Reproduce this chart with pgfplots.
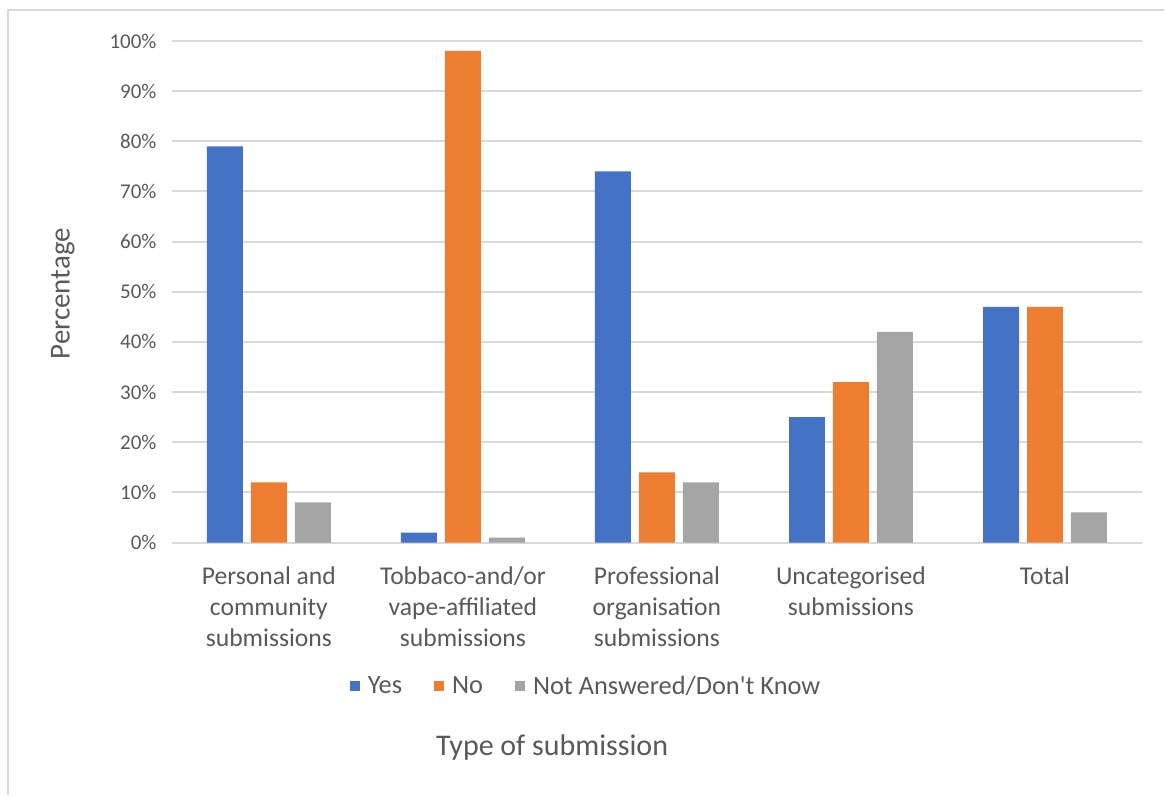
\documentclass[border=0pt]{standalone}
\usepackage{fontspec}
\setmainfont{Carlito}
\usepackage{pgfplots}
\pgfplotsset{compat=1.18}

\definecolor{cYes}{HTML}{4472C4}
\definecolor{cNo}{HTML}{ED7D31}
\definecolor{cNA}{HTML}{A5A5A5}
\definecolor{gridc}{HTML}{D9D9D9}
\definecolor{txt}{HTML}{595959}

\begin{document}
\begin{tikzpicture}
\begin{axis}[
    at={(0,0)}, anchor=south west,
    width=485.5pt, height=251pt,
    scale only axis,
    ybar, bar width=18pt,
    xmin=-0.5, xmax=4.5,
    ymin=0, ymax=100,
    xtick={0,1,2,3,4},
    xticklabels={Personal and\\community\\submissions,
                 Tobbaco-and/or\\vape-affiliated\\submissions,
                 Professional\\organisation\\submissions,
                 Uncategorised\\submissions,
                 Total},
    ytick={0,10,...,100},
    yticklabel={\pgfmathprintnumber{\tick}\%},
    major tick length=0pt,
    axis line style={draw=none},
    ymajorgrids, grid style={gridc, line width=1pt},
    xticklabel style={anchor=north, inner sep=0pt, yshift=-12pt, align=center,
        font=\fontsize{12.8}{15.5}\selectfont, text=txt},
    yticklabel style={anchor=east, inner sep=0pt, xshift=-7.5pt,
        font=\fontsize{10.5}{12}\selectfont, text=txt},
    /pgf/number format/assume math mode=true,
    xlabel={Type of submission},
    xlabel style={at={(axis description cs:0.392,-0.408)}, anchor=center,
        font=\fontsize{15}{18}\selectfont, text=txt},
    ylabel={Percentage},
    ylabel style={at={(axis description cs:-0.1123,0.496)}, anchor=center,
        font=\fontsize{14.5}{17}\selectfont, text=txt},
    legend style={at={(axis description cs:0.43,-0.287)}, anchor=center,
        draw=none, legend columns=-1, font=\fontsize{13.2}{15}\selectfont,
        text=txt,
        nodes={inner xsep=4pt},
        /tikz/every even column/.append style={column sep=12pt}},
    legend image code/.code={\fill[#1] (0pt,-2.5pt) rectangle (5pt,2.5pt);},
]
\addplot[fill=cYes, draw=none, bar shift=-22pt] coordinates {
    (0,79) (1,2) (2,74) (3,25) (4,47)};
\addplot[fill=cNo, draw=none, bar shift=0pt] coordinates {
    (0,12) (1,98) (2,14) (3,32) (4,47)};
\addplot[fill=cNA, draw=none, bar shift=22pt] coordinates {
    (0,8) (1,1) (2,12) (3,42) (4,6)};
\legend{Yes, No, Not Answered/Don\textquotesingle t Know}
\end{axis}
\draw[gridc, line width=1pt] (-82pt,-126.5pt) -- (-82pt,266.5pt) -- (496.5pt,266.5pt);
\path[use as bounding box] (-86pt,-126.5pt) rectangle (496.5pt,271.5pt);
\end{tikzpicture}
\end{document}
